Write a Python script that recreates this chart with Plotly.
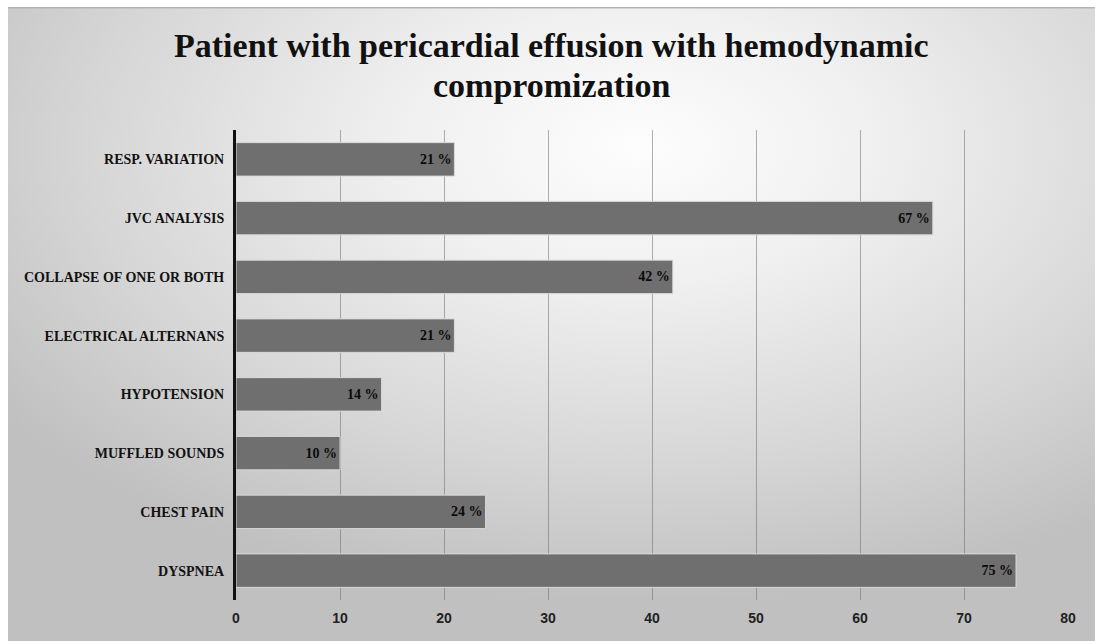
import base64
import plotly.graph_objects as go

# Findings, listed top to bottom as shown on the chart
categories = [
    "RESP. VARIATION",
    "JVC ANALYSIS",
    "COLLAPSE OF ONE OR BOTH",
    "ELECTRICAL ALTERNANS",
    "HYPOTENSION",
    "MUFFLED SOUNDS",
    "CHEST PAIN",
    "DYSPNEA",
]
percentages = [21, 67, 42, 21, 14, 10, 24, 75]
x_ticks = [0, 10, 20, 30, 40, 50, 60, 70, 80]

title_lines = ["Patient with pericardial effusion with hemodynamic", "compromization"]

W, H = 1095, 641
margin = dict(l=236, r=27, t=130, b=41)
plot_w = W - margin["l"] - margin["r"]
plot_h = H - margin["t"] - margin["b"]

# Soft radial backdrop (white centre fading to grey) as an inline SVG
panel_x0, panel_y0 = 8, 7
panel_w, panel_h = W - panel_x0, H - panel_y0
svg = f"""<svg xmlns='http://www.w3.org/2000/svg' width='{panel_w}' height='{panel_h}'
 viewBox='0 0 {panel_w} {panel_h}' preserveAspectRatio='none'>
<defs><radialGradient id='g' cx='0.58' cy='0.22' r='0.72'>
<stop offset='0' stop-color='#fdfdfd'/>
<stop offset='0.3' stop-color='#f0f0f0'/>
<stop offset='0.7' stop-color='#d6d6d6'/>
<stop offset='1' stop-color='#c0c0c0'/>
</radialGradient></defs>
<rect x='0' y='0' width='{panel_w}' height='{panel_h}' fill='url(#g)'/>
<rect x='0' y='0' width='{panel_w}' height='1.5' fill='#b5b5b5'/>
</svg>"""
bg_uri = "data:image/svg+xml;base64," + base64.b64encode(svg.encode()).decode()

fig = go.Figure()
fig.add_trace(go.Bar(
    x=percentages,
    y=categories,
    orientation="h",
    width=0.57,
    marker=dict(color="#6f6f6f", line=dict(color="#d9d9d9", width=1)),
    text=[f"<b>{v} %</b>" for v in percentages],
    textposition="inside",
    insidetextanchor="end",
    textfont=dict(family="Liberation Serif", size=14, color="#0a0a0a"),
    hoverinfo="skip",
))

fig.add_layout_image(dict(
    source=bg_uri,
    xref="paper", yref="paper",
    x=(panel_x0 - margin["l"]) / plot_w,
    y=(H - margin["b"] - panel_y0) / plot_h,
    sizex=panel_w / plot_w,
    sizey=panel_h / plot_h,
    xanchor="left", yanchor="top",
    sizing="stretch",
    layer="below",
))

# Two-line title, each line placed separately for tighter leading
for line, y_px in zip(title_lines, [46, 85]):
    fig.add_annotation(
        text=f"<b>{line}</b>",
        xref="paper", yref="paper",
        x=(551 - margin["l"]) / plot_w,
        y=(H - margin["b"] - y_px) / plot_h,
        xanchor="center", yanchor="middle",
        showarrow=False,
        font=dict(family="Liberation Serif", size=34, color="#111111"),
    )

fig.update_layout(
    width=W, height=H,
    margin=margin,
    paper_bgcolor="white",
    plot_bgcolor="rgba(0,0,0,0)",
    showlegend=False,
    uniformtext=dict(minsize=14, mode="show"),
    xaxis=dict(
        range=[0, 80],
        tickvals=x_ticks,
        ticktext=[f"<b>{t}</b>" for t in x_ticks],
        tickfont=dict(family="Liberation Sans", size=14, color="#222222"),
        showgrid=True,
        gridcolor="rgba(110,110,110,0.55)",
        gridwidth=1,
        zeroline=False,
        showline=False,
        ticks="",
        ticklabelstandoff=8,
        layer="above traces",
        fixedrange=True,
    ),
    yaxis=dict(
        categoryorder="array",
        categoryarray=categories,
        autorange="reversed",
        ticktext=[f"<b>{c}</b>" for c in categories],
        tickvals=categories,
        tickfont=dict(family="Liberation Serif", size=14, color="#111111"),
        showgrid=False,
        showline=True,
        linecolor="#111111",
        linewidth=3,
        ticks="",
        ticklabelstandoff=6,
        layer="above traces",
        fixedrange=True,
    ),
)

fig.write_html("out.html", config={"displayModeBar": False, "staticPlot": True})
